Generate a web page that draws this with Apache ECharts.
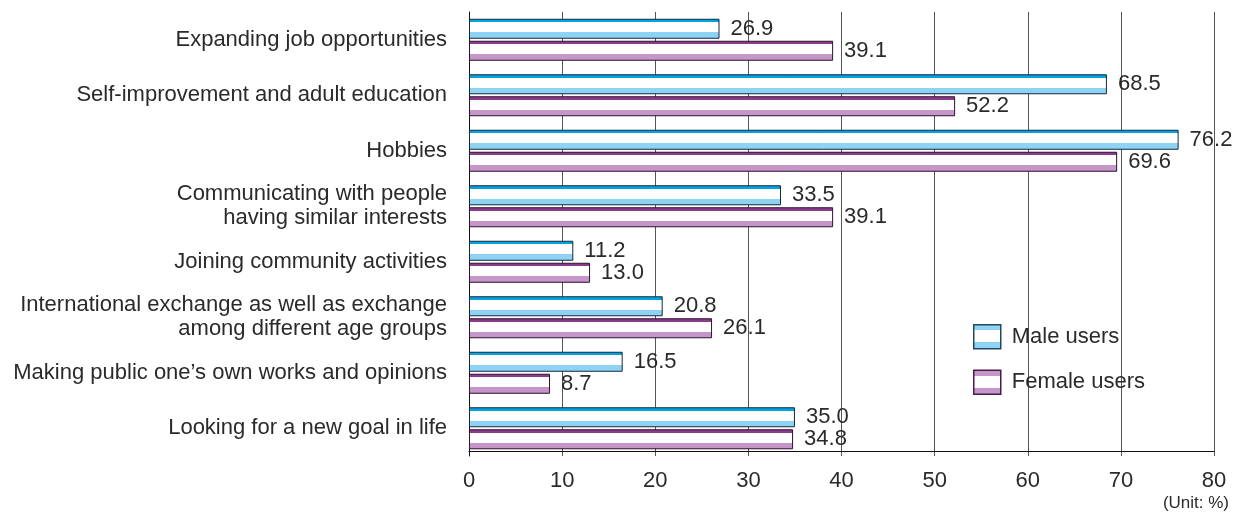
<!DOCTYPE html>
<html><head><meta charset="utf-8">
<script src="https://cdn.jsdelivr.net/npm/echarts@6/dist/echarts.min.js"></script>
<style>html,body{margin:0;padding:0;background:#fff}#c{width:1239px;height:515px}</style>
</head><body><div id="c"></div>
<script>
const categories = [
  "Expanding job opportunities",
  "Self-improvement and adult education",
  "Hobbies",
  "Communicating with people\nhaving similar interests",
  "Joining community activities",
  "International exchange as well as exchange\namong different age groups",
  "Making public one\u2019s own works and opinions",
  "Looking for a new goal in life"
];
const maleValues = [26.9, 68.5, 76.2, 33.5, 11.2, 20.8, 16.5, 35.0];
const femaleValues = [39.1, 52.2, 69.6, 39.1, 13.0, 26.1, 8.7, 34.8];
const xTicks = [0, 10, 20, 30, 40, 50, 60, 70, 80];

function grad(top, bottom, a, b) {
  return new echarts.graphic.LinearGradient(0, 0, 0, 1, [
    {offset: 0, color: top}, {offset: a, color: top},
    {offset: a, color: '#ffffff'}, {offset: b, color: '#ffffff'},
    {offset: b, color: bottom}, {offset: 1, color: bottom}
  ]);
}
const font = 'Liberation Sans, Arial, sans-serif';
const txt = '#2a2a2a';
const chart = echarts.init(document.getElementById('c'));
const lbl = {show: true, position: 'right', distance: 11, color: txt, fontSize: 22, fontFamily: font,
  formatter: p => p.value.toFixed(1)};
chart.setOption({
  animation: false,
  grid: {left: 469, right: 25, top: 12, bottom: 59, containLabel: false},
  legend: {
    orient: 'vertical', left: 973, top: 324, padding: 0, itemWidth: 27, itemHeight: 24, itemGap: 20,
    icon: 'rect',
    textStyle: {fontSize: 22, fontFamily: font, color: txt, padding: [0, 0, 0, 6]},
    data: [
      {name: 'Male users', itemStyle: {color: grad('#8fd3f4', '#8fd3f4', 0.25, 0.72), borderColor: '#234a5c', borderWidth: 1.5}},
      {name: 'Female users', itemStyle: {color: grad('#c497c8', '#c497c8', 0.25, 0.72), borderColor: '#4a1a4c', borderWidth: 1.5}}
    ]
  },
  xAxis: {
    type: 'value', min: xTicks[0], max: xTicks[xTicks.length - 1], interval: 10,
    offset: -5,
    axisLine: {show: true, lineStyle: {color: '#111', width: 1}},
    axisTick: {show: false},
    axisLabel: {fontSize: 22, fontFamily: font, color: txt, margin: 19},
    splitLine: {show: true, lineStyle: {color: '#555', width: 1}}
  },
  yAxis: {
    type: 'category', data: categories, inverse: true,
    axisLine: {show: true, lineStyle: {color: '#111'}},
    axisTick: {show: false},
    axisLabel: {fontSize: 22, fontFamily: font, color: txt, margin: 22, lineHeight: 24, align: 'right'}
  },
  series: [
    {name: 'Male users', type: 'bar', data: maleValues, barWidth: 20, barGap: '10%',
     itemStyle: {color: grad('#00a3e0', '#8fd3f4', 0.17, 0.68), borderColor: '#14283c', borderWidth: 1},
     label: lbl},
    {name: 'Female users', type: 'bar', data: femaleValues, barWidth: 20,
     itemStyle: {color: grad('#8c3a8c', '#c497c8', 0.17, 0.68), borderColor: '#2e1230', borderWidth: 1},
     label: lbl}
  ],
  graphic: [{type: 'text', right: 10, top: 495,
    style: {text: '(Unit: %)', fontSize: 17, fontFamily: font, fill: txt}}]
});
</script></body></html>
